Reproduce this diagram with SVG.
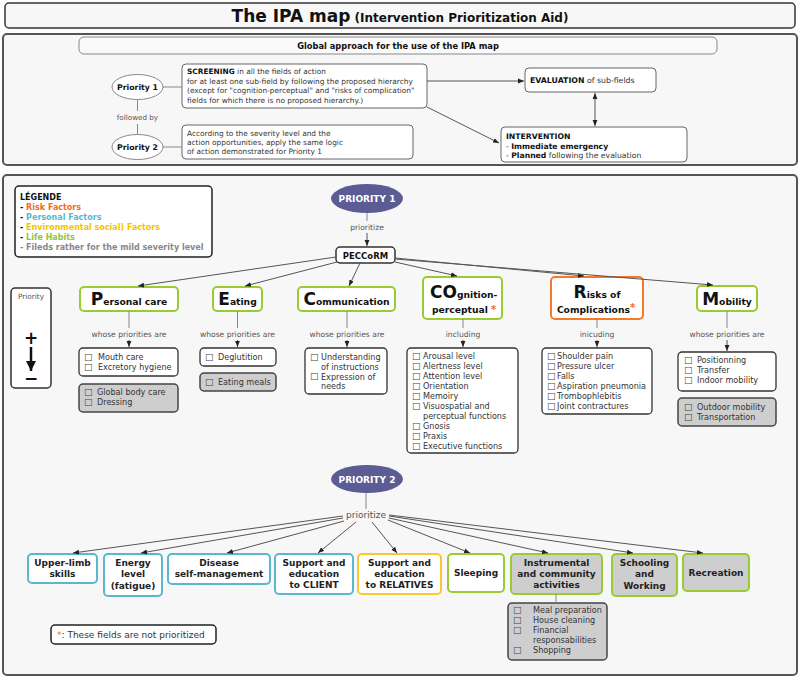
<svg xmlns="http://www.w3.org/2000/svg" width="800" height="677" viewBox="0 0 800 677">
<defs>
<style>
text{font-family:"DejaVu Sans","Liberation Sans",sans-serif;fill:#333}
.s{font-size:7.4px}
.l{font-size:8.1px;fill:#333}
.cb{font-size:9.5px;fill:#444}
.sb{font-size:7.4px;font-weight:bold;fill:#111}
.lg{font-size:8px;font-weight:bold;fill:#111}
.panel{fill:#f7f7f7;stroke:#555;stroke-width:2}
.box{fill:#fff;stroke:#666;stroke-width:1}
.lbox{fill:#fff;stroke:#333;stroke-width:1.3}
.kbox{fill:#fff;stroke:#333;stroke-width:1.5}
.gbox{fill:#cecece;stroke:#444;stroke-width:1.5}
.green{fill:#fff;stroke:#99cc33;stroke-width:2}
.greeng{fill:#cecece;stroke:#99cc33;stroke-width:2}
.blue{fill:#fff;stroke:#5bb8cc;stroke-width:2}
.yellow{fill:#fff;stroke:#f7c930;stroke-width:2}
.orange{fill:#fff;stroke:#f47a2a;stroke-width:2}
.ed{fill:none;stroke:#555;stroke-width:1;marker-end:url(#ah)}
.ln{fill:none;stroke:#888;stroke-width:1}
.t1{font-size:17px;font-weight:bold;fill:#111}
.t2{font-size:9.2px;font-weight:bold;fill:#111}
.red{font-size:10px;font-weight:bold;fill:#f26b21}
.bt{font-size:9px;font-weight:bold;fill:#222;text-anchor:middle}
.lbl{font-size:7.6px;fill:#555;text-anchor:middle}
</style>
<marker id="ah" viewBox="0 0 10 10" refX="10" refY="5" markerWidth="6" markerHeight="6" orient="auto-start-reverse"><path d="M0,1 L10,5 L0,9 z" fill="#222"/></marker>
<marker id="big" viewBox="0 0 10 10" refX="10" refY="5" markerWidth="4" markerHeight="4" orient="auto"><path d="M0,0 L10,5 L0,10 z" fill="#111"/></marker>
</defs>
<rect width="800" height="677" fill="#fdfdfd"/>

<g id="title">
<rect x="5" y="3" width="790" height="25" rx="4" fill="#f7f7f7" stroke="#333" stroke-width="1.5"/>
<text x="400" y="22" text-anchor="middle" style="font-weight:bold;fill:#111"><tspan font-size="17">The IPA map</tspan><tspan font-size="12"> (Intervention Prioritization Aid)</tspan></text>
</g>

<g id="panel-global">
<rect class="panel" x="3" y="34" width="794" height="131" rx="4"/>
</g>
<g id="global-header">
<rect x="79" y="37" width="638" height="17" rx="5" fill="#fafafa" stroke="#888"/>
<text x="398" y="48.5" text-anchor="middle" style="font-size:8.3px;font-weight:bold;fill:#111">Global approach for the use of the IPA map</text>
</g>
<g id="g-priority1">
<ellipse cx="137.5" cy="87" rx="25.5" ry="12.5" fill="#fff" stroke="#888"/>
<text class="sb" x="137.5" y="89.8" text-anchor="middle" style="font-size:7.8px">Priority 1</text>
</g>
<g id="g-priority2">
<ellipse cx="137.5" cy="147" rx="25.5" ry="12.5" fill="#fff" stroke="#888"/>
<text class="sb" x="137.5" y="149.8" text-anchor="middle" style="font-size:7.8px">Priority 2</text>
</g>
<g id="g-screening">
<rect class="box" x="182" y="64" width="245" height="44" rx="4"/>
<text class="s" x="187" y="74"><tspan font-weight="bold" fill="#111">SCREENING</tspan> in all the fields of action</text>
<text class="s" x="187" y="83.5">for at least one sub-field by following the proposed hierarchy</text>
<text class="s" x="187" y="93">(except for "cognition-perceptual" and "risks of complication"</text>
<text class="s" x="187" y="102.5">fields for which there is no proposed hierarchy.)</text>
</g>
<g id="g-severity">
<rect class="box" x="182" y="125" width="231" height="34" rx="4"/>
<text class="s" x="187" y="136">According to the severity level and the</text>
<text class="s" x="187" y="145">action opportunities, apply the same logic</text>
<text class="s" x="187" y="154">of action demonstrated for Priority 1</text>
</g>
<g id="g-evaluation">
<rect class="box" x="525" y="68" width="131" height="24" rx="4"/>
<text class="s" x="530" y="83" style="font-size:7.8px"><tspan font-weight="bold" fill="#111">EVALUATION</tspan> of sub-fields</text>
</g>
<g id="g-intervention">
<rect class="box" x="501" y="127" width="186" height="35" rx="4"/>
<text class="sb" x="506" y="139" style="font-size:7.7px">INTERVENTION</text>
<text class="s" x="506" y="148.5" style="font-size:7.7px">- <tspan font-weight="bold" fill="#111">Immediate emergency</tspan></text>
<text class="s" x="506" y="158" style="font-size:7.7px">- <tspan font-weight="bold" fill="#111">Planned</tspan> following the evaluation</text>
</g>
<g id="g-connectors">
<line class="ln" x1="137.5" y1="100" x2="137.5" y2="111"/>
<text class="lbl" x="137.5" y="120" style="font-size:7.2px">followed by</text>
<line class="ln" x1="137.5" y1="124" x2="137.5" y2="134.5"/>
<line class="ln" x1="163" y1="87" x2="182" y2="87"/>
<line class="ln" x1="163" y1="147" x2="182" y2="147"/>
<line class="ed" x1="427" y1="81" x2="524" y2="81"/>
<line class="ed" x1="427" y1="107" x2="499" y2="143"/>
<line class="ed" x1="595" y1="93" x2="595" y2="126" style="marker-start:url(#ah)"/>
</g>

<g id="panel-map">
<rect class="panel" x="3" y="175" width="794" height="500" rx="4"/>
</g>

<g id="legend">
<rect x="15" y="186" width="197" height="71" rx="4" fill="#fff" stroke="#222" stroke-width="1.5"/>
<text class="lg" x="20" y="200">LÉGENDE</text>
<text class="lg" x="20" y="210">- <tspan fill="#f26b21">Risk Factors</tspan></text>
<text class="lg" x="20" y="220">- <tspan fill="#5bb8cc">Personal Factors</tspan></text>
<text class="lg" x="20" y="230">- <tspan fill="#f5c400">Environmental social) Factors</tspan></text>
<text class="lg" x="20" y="240">- <tspan fill="#8cc63f">Life Habits</tspan></text>
<text class="lg" x="20" y="250" style="fill:#888">- Fileds rather for the mild severity level</text>
</g>

<g id="priority-scale">
<rect x="11" y="288" width="40" height="100" rx="4" fill="#fff" stroke="#333" stroke-width="1.5"/>
<text class="lbl" x="31" y="299" style="font-size:7.3px">Priority</text>
<text x="31" y="344" text-anchor="middle" style="font-size:17px;font-weight:bold;fill:#111">+</text>
<line x1="31" y1="347" x2="31" y2="371" stroke="#111" stroke-width="2.5" marker-end="url(#big)"/>
<text x="31" y="384" text-anchor="middle" style="font-size:17px;font-weight:bold;fill:#111">−</text>
</g>

<g id="priority1">
<ellipse cx="367" cy="198.5" rx="36" ry="14.5" fill="#5c5c94"/>
<text x="367" y="202" text-anchor="middle" style="font-size:9px;font-weight:bold;fill:#fff">PRIORITY 1</text>
</g>
<g id="peccorm">
<rect class="kbox" x="336" y="247" width="59" height="16" rx="4"/>
<text x="365.5" y="258.5" text-anchor="middle" style="font-size:8.5px;font-weight:bold;fill:#111">PECCoRM</text>
</g>

<g id="personal-care">
<rect class="green" x="80" y="287" width="98" height="24" rx="4"/>
<text x="129" y="305" text-anchor="middle"><tspan class="t1">P</tspan><tspan class="t2">ersonal care</tspan></text>
</g>
<g id="personal-care-list">
<rect class="lbox" x="79" y="348" width="99" height="28" rx="4"/>
<text class="cb" x="84" y="360.5">☐</text><text class="l" x="98" y="360">Mouth care</text>
<text class="cb" x="84" y="370.5">☐</text><text class="l" x="98" y="370">Excretory hygiene</text>
</g>
<g id="personal-care-mild">
<rect class="gbox" x="79" y="384" width="99" height="28" rx="4"/>
<text class="cb" x="84" y="395.5">☐</text><text class="l" x="97" y="395">Global body care</text>
<text class="cb" x="84" y="405.5">☐</text><text class="l" x="97" y="405">Dressing</text>
</g>

<g id="eating">
<rect class="green" x="213" y="287" width="49" height="24" rx="4"/>
<text x="237.5" y="305" text-anchor="middle"><tspan class="t1">E</tspan><tspan class="t2">ating</tspan></text>
</g>
<g id="eating-list">
<rect class="lbox" x="200" y="348" width="76" height="18" rx="4"/>
<text class="cb" x="205" y="360.5">☐</text><text class="l" x="218" y="360">Deglutition</text>
</g>
<g id="eating-mild">
<rect class="gbox" x="200" y="373" width="76" height="18" rx="4"/>
<text class="cb" x="205" y="385.5">☐</text><text class="l" x="218" y="385">Eating meals</text>
</g>

<g id="communication">
<rect class="green" x="298" y="287" width="97" height="24" rx="4"/>
<text x="346.5" y="305" text-anchor="middle"><tspan class="t1">C</tspan><tspan class="t2">ommunication</tspan></text>
</g>
<g id="communication-list">
<rect class="lbox" x="305" y="348" width="82" height="46" rx="4"/>
<text class="cb" x="310" y="360.5">☐</text><text class="l" x="321" y="360">Understanding</text>
<text class="l" x="321" y="369.5">of instructions</text>
<text class="cb" x="310" y="380">☐</text><text class="l" x="321" y="379.5">Expression of</text>
<text class="l" x="321" y="389">needs</text>
</g>

<g id="cognition">
<rect class="green" x="423" y="277" width="79" height="42" rx="4"/>
<text x="430" y="298"><tspan class="t1">CO</tspan><tspan class="t2">gnition-</tspan></text>
<text x="432" y="313"><tspan class="t2">perceptual </tspan><tspan class="red">*</tspan></text>
</g>
<g id="cognition-list">
<rect class="lbox" x="407" y="348" width="111" height="105" rx="4"/>
<text class="cb" x="412" y="359.5">☐</text><text class="l" x="423" y="359">Arousal level</text>
<text class="cb" x="412" y="369.5">☐</text><text class="l" x="423" y="369">Alertness level</text>
<text class="cb" x="412" y="379.5">☐</text><text class="l" x="423" y="379">Attention level</text>
<text class="cb" x="412" y="389.5">☐</text><text class="l" x="423" y="389">Orientation</text>
<text class="cb" x="412" y="399.5">☐</text><text class="l" x="423" y="399">Memoiry</text>
<text class="cb" x="412" y="409.5">☐</text><text class="l" x="423" y="409">Visuospatial and</text>
<text class="l" x="423" y="419">perceptual functions</text>
<text class="cb" x="412" y="429.5">☐</text><text class="l" x="423" y="429">Gnosis</text>
<text class="cb" x="412" y="439.5">☐</text><text class="l" x="423" y="439">Praxis</text>
<text class="cb" x="412" y="449.5">☐</text><text class="l" x="423" y="449">Executive functions</text>
</g>

<g id="risks">
<rect class="orange" x="551" y="277" width="92" height="42" rx="4"/>
<text x="597" y="298" text-anchor="middle"><tspan class="t1">R</tspan><tspan class="t2">isks of</tspan></text>
<text x="596" y="313" text-anchor="middle"><tspan class="t2">Complications</tspan><tspan class="red" dy="-2">*</tspan></text>
</g>
<g id="risks-list">
<rect class="lbox" x="542" y="348" width="110" height="66" rx="4"/>
<text class="cb" x="547" y="359.5">☐</text><text class="l" x="557" y="359">Shoulder pain</text>
<text class="cb" x="547" y="369.5">☐</text><text class="l" x="557" y="369">Pressure ulcer</text>
<text class="cb" x="547" y="379.5">☐</text><text class="l" x="557" y="379">Falls</text>
<text class="cb" x="547" y="389.5">☐</text><text class="l" x="557" y="389">Aspiration pneumonia</text>
<text class="cb" x="547" y="399.5">☐</text><text class="l" x="557" y="399">Trombophlebitis</text>
<text class="cb" x="547" y="409.5">☐</text><text class="l" x="557" y="409">Joint contractures</text>
</g>

<g id="mobility">
<rect class="green" x="697" y="286" width="60" height="25" rx="4"/>
<text x="727" y="305" text-anchor="middle"><tspan class="t1">M</tspan><tspan class="t2">obility</tspan></text>
</g>
<g id="mobility-list">
<rect class="lbox" x="678" y="352" width="98" height="39" rx="4"/>
<text class="cb" x="684" y="363.5">☐</text><text class="l" x="697" y="363">Positionning</text>
<text class="cb" x="684" y="373.5">☐</text><text class="l" x="697" y="373">Transfer</text>
<text class="cb" x="684" y="383.5">☐</text><text class="l" x="697" y="383">Indoor mobility</text>
</g>
<g id="mobility-mild">
<rect class="gbox" x="678" y="398" width="98" height="28" rx="4"/>
<text class="cb" x="684" y="410.5">☐</text><text class="l" x="697" y="410">Outdoor mobility</text>
<text class="cb" x="684" y="420.5">☐</text><text class="l" x="697" y="420">Transportation</text>
</g>

<g id="priority2">
<ellipse cx="367" cy="479" rx="36" ry="14" fill="#5c5c94"/>
<text x="367" y="482.5" text-anchor="middle" style="font-size:9px;font-weight:bold;fill:#fff">PRIORITY 2</text>
</g>

<g id="upper-limb">
<rect class="blue" x="28" y="554" width="69" height="29" rx="4"/>
<text class="bt" x="62.5" y="566">Upper-limb</text><text class="bt" x="62.5" y="577">skills</text>
</g>
<g id="energy">
<rect class="blue" x="104" y="554" width="58" height="42" rx="4"/>
<text class="bt" x="133" y="566">Energy</text><text class="bt" x="133" y="577">level</text><text class="bt" x="133" y="589">(fatigue)</text>
</g>
<g id="disease">
<rect class="blue" x="168" y="554" width="102" height="30" rx="4"/>
<text class="bt" x="219" y="566">Disease</text><text class="bt" x="219" y="577">self-management</text>
</g>
<g id="support-client">
<rect class="blue" x="275" y="554" width="78" height="40" rx="4"/>
<text class="bt" x="314" y="566">Support and</text><text class="bt" x="314" y="577">education</text><text class="bt" x="314" y="588">to CLIENT</text>
</g>
<g id="support-relatives">
<rect class="yellow" x="358" y="554" width="83" height="40" rx="4"/>
<text class="bt" x="399.5" y="566">Support and</text><text class="bt" x="399.5" y="577">education</text><text class="bt" x="399.5" y="588">to RELATIVES</text>
</g>
<g id="sleeping">
<rect class="green" x="448" y="554" width="56" height="38" rx="4"/>
<text class="bt" x="476" y="576">Sleeping</text>
</g>
<g id="instrumental">
<rect class="greeng" x="511" y="554" width="91" height="40" rx="4"/>
<text class="bt" x="556.5" y="566">Instrumental</text><text class="bt" x="556.5" y="577">and community</text><text class="bt" x="556.5" y="588">activities</text>
</g>
<g id="instrumental-list">
<rect class="gbox" x="508" y="603" width="99" height="57" rx="4"/>
<text class="cb" x="513" y="613.5">☐</text><text class="l" x="533" y="613">Meal preparation</text>
<text class="cb" x="513" y="623.5">☐</text><text class="l" x="533" y="623">House cleaning</text>
<text class="cb" x="513" y="633.5">☐</text><text class="l" x="533" y="633">Financial</text>
<text class="l" x="533" y="643">responsabilities</text>
<text class="cb" x="513" y="653.5">☐</text><text class="l" x="533" y="653">Shopping</text>
</g>
<g id="schooling">
<rect class="greeng" x="612" y="554" width="65" height="42" rx="4"/>
<text class="bt" x="644.5" y="566">Schooling</text><text class="bt" x="644.5" y="577">and</text><text class="bt" x="644.5" y="589">Working</text>
</g>
<g id="recreation">
<rect class="greeng" x="683" y="554" width="66" height="37" rx="4"/>
<text class="bt" x="716" y="576">Recreation</text>
</g>

<g id="note">
<rect x="51" y="625" width="165" height="19" rx="4" fill="#fff" stroke="#222" stroke-width="1.5"/>
<text x="57" y="638" style="font-size:9px"><tspan style="fill:#f26b21">*</tspan>: These fields are not prioritized</text>
</g>

<g id="connectors">
<line class="ln" x1="367" y1="213" x2="367" y2="221"/>
<text class="lbl" x="367" y="230">prioritize</text>
<line class="ed" x1="367" y1="233" x2="367" y2="246"/>
<line class="ed" x1="336" y1="257" x2="138" y2="286"/>
<line class="ed" x1="337" y1="262" x2="245" y2="286"/>
<line class="ed" x1="360" y1="263" x2="349" y2="286"/>
<line class="ed" x1="395" y1="262" x2="457" y2="276"/>
<line class="ed" x1="395" y1="258" x2="584" y2="276"/>
<line class="ed" x1="395" y1="259" x2="713" y2="285"/>

<line class="ln" x1="129" y1="311" x2="129" y2="328"/>
<text class="lbl" x="129" y="337">whose priorities are</text>
<line class="ed" x1="129" y1="340" x2="129" y2="347"/>
<line class="ln" x1="237.5" y1="311" x2="237.5" y2="328"/>
<text class="lbl" x="237.5" y="337">whose priorities are</text>
<line class="ed" x1="237.5" y1="340" x2="237.5" y2="347"/>
<line class="ln" x1="347" y1="311" x2="347" y2="328"/>
<text class="lbl" x="347" y="337">whose priorities are</text>
<line class="ed" x1="347" y1="340" x2="347" y2="347"/>
<line class="ln" x1="463" y1="319" x2="463" y2="328"/>
<text class="lbl" x="463" y="337">including</text>
<line class="ed" x1="463" y1="340" x2="463" y2="347"/>
<line class="ln" x1="597" y1="319" x2="597" y2="328"/>
<text class="lbl" x="597" y="337">inicuding</text>
<line class="ed" x1="597" y1="340" x2="597" y2="347"/>
<line class="ln" x1="727" y1="311" x2="727" y2="328"/>
<text class="lbl" x="727" y="337">whose priorities are</text>
<line class="ed" x1="727" y1="340" x2="727" y2="351"/>

<line class="ln" x1="366" y1="493" x2="366" y2="509"/>
<text class="lbl" x="366" y="518" style="font-size:9px">prioritize</text>
<line class="ed" x1="343" y1="516" x2="73" y2="553"/>
<line class="ed" x1="343" y1="518" x2="141" y2="553"/>
<line class="ed" x1="344" y1="521" x2="227" y2="553"/>
<line class="ed" x1="356" y1="522" x2="318" y2="553"/>
<line class="ed" x1="372" y1="522" x2="397" y2="553"/>
<line class="ed" x1="388" y1="520" x2="470" y2="553"/>
<line class="ed" x1="389" y1="518" x2="548" y2="553"/>
<line class="ed" x1="389" y1="516" x2="633" y2="553"/>
<line class="ed" x1="389" y1="515" x2="703" y2="553"/>
<line class="ln" x1="556" y1="594" x2="556" y2="603"/>
</g>
</svg>
